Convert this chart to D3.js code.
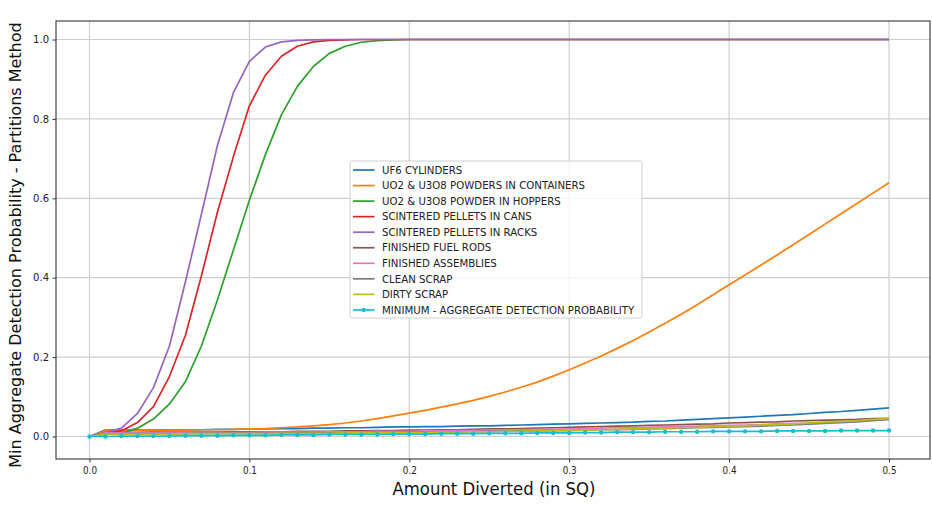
<!DOCTYPE html>
<html>
<head>
<meta charset="utf-8">
<script src="https://cdn.jsdelivr.net/npm/d3@7"></script>
<style>
  html, body { margin: 0; padding: 0; background: #fff; }
  svg { display: block; font-family: "DejaVu Sans", sans-serif; }
</style>
</head>
<body>
<svg id="chart" width="932" height="508"></svg>
<script>
// Amount diverted (SQ), sampled every 0.01
const amounts = [
  0.00, 0.01, 0.02, 0.03, 0.04, 0.05, 0.06, 0.07, 0.08, 0.09,
  0.10, 0.11, 0.12, 0.13, 0.14, 0.15, 0.16, 0.17, 0.18, 0.19,
  0.20, 0.21, 0.22, 0.23, 0.24, 0.25, 0.26, 0.27, 0.28, 0.29,
  0.30, 0.31, 0.32, 0.33, 0.34, 0.35, 0.36, 0.37, 0.38, 0.39,
  0.40, 0.41, 0.42, 0.43, 0.44, 0.45, 0.46, 0.47, 0.48, 0.49, 0.50
];

const uf6Cylinders = [
  0.000, 0.016, 0.016, 0.016, 0.016, 0.017, 0.017, 0.017, 0.018, 0.018,
  0.019, 0.019, 0.020, 0.020, 0.021, 0.021, 0.022, 0.022, 0.023, 0.024,
  0.024, 0.025, 0.025, 0.026, 0.027, 0.027, 0.028, 0.029, 0.030, 0.031,
  0.032, 0.033, 0.034, 0.035, 0.036, 0.038, 0.039, 0.041, 0.043, 0.045,
  0.047, 0.049, 0.051, 0.053, 0.055, 0.058, 0.061, 0.063, 0.066, 0.069, 0.072
];

const powdersInContainers = [
  0.000, 0.014, 0.014, 0.015, 0.015, 0.016, 0.016, 0.017, 0.017, 0.018,
  0.019, 0.020, 0.022, 0.024, 0.027, 0.030, 0.034, 0.039, 0.045, 0.052,
  0.059, 0.066, 0.074, 0.082, 0.091, 0.101, 0.112, 0.124, 0.137, 0.152,
  0.168, 0.185, 0.203, 0.222, 0.242, 0.263, 0.285, 0.308, 0.332, 0.357,
  0.382, 0.407, 0.432, 0.457, 0.483, 0.509, 0.535, 0.561, 0.587, 0.613, 0.639
];

const powderInHoppers = [
  0.000, 0.005, 0.008, 0.021, 0.044, 0.082, 0.138, 0.228, 0.344, 0.470,
  0.595, 0.710, 0.810, 0.882, 0.932, 0.965, 0.983, 0.993, 0.997, 0.999,
  1.000, 1.000, 1.000, 1.000, 1.000, 1.000, 1.000, 1.000, 1.000, 1.000,
  1.000, 1.000, 1.000, 1.000, 1.000, 1.000, 1.000, 1.000, 1.000, 1.000,
  1.000, 1.000, 1.000, 1.000, 1.000, 1.000, 1.000, 1.000, 1.000, 1.000, 1.000
];

const pelletsInCans = [
  0.000, 0.008, 0.014, 0.035, 0.075, 0.151, 0.255, 0.405, 0.565, 0.705,
  0.833, 0.910, 0.958, 0.983, 0.994, 0.998, 0.999, 1.000, 1.000, 1.000,
  1.000, 1.000, 1.000, 1.000, 1.000, 1.000, 1.000, 1.000, 1.000, 1.000,
  1.000, 1.000, 1.000, 1.000, 1.000, 1.000, 1.000, 1.000, 1.000, 1.000,
  1.000, 1.000, 1.000, 1.000, 1.000, 1.000, 1.000, 1.000, 1.000, 1.000, 1.000
];

const pelletsInRacks = [
  0.000, 0.010, 0.021, 0.058, 0.123, 0.228, 0.390, 0.560, 0.733, 0.866,
  0.945, 0.981, 0.994, 0.998, 0.999, 1.000, 1.000, 1.000, 1.000, 1.000,
  1.000, 1.000, 1.000, 1.000, 1.000, 1.000, 1.000, 1.000, 1.000, 1.000,
  1.000, 1.000, 1.000, 1.000, 1.000, 1.000, 1.000, 1.000, 1.000, 1.000,
  1.000, 1.000, 1.000, 1.000, 1.000, 1.000, 1.000, 1.000, 1.000, 1.000, 1.000
];

const finishedFuelRods = [
  0.000, 0.010, 0.010, 0.010, 0.011, 0.011, 0.011, 0.011, 0.011, 0.012,
  0.012, 0.012, 0.012, 0.013, 0.013, 0.013, 0.014, 0.014, 0.015, 0.015,
  0.016, 0.016, 0.017, 0.017, 0.018, 0.019, 0.019, 0.020, 0.021, 0.022,
  0.023, 0.024, 0.025, 0.026, 0.027, 0.028, 0.029, 0.030, 0.031, 0.032,
  0.034, 0.035, 0.036, 0.037, 0.039, 0.040, 0.041, 0.042, 0.043, 0.045, 0.046
];

const finishedAssemblies = [
  0.000, 0.009, 0.009, 0.009, 0.009, 0.010, 0.010, 0.010, 0.010, 0.010,
  0.010, 0.011, 0.011, 0.011, 0.011, 0.012, 0.012, 0.012, 0.013, 0.013,
  0.013, 0.014, 0.014, 0.015, 0.015, 0.016, 0.016, 0.017, 0.018, 0.018,
  0.019, 0.020, 0.021, 0.022, 0.022, 0.023, 0.024, 0.025, 0.026, 0.027,
  0.028, 0.029, 0.030, 0.032, 0.033, 0.034, 0.036, 0.037, 0.039, 0.041, 0.043
];

const cleanScrap = [
  0.000, 0.007, 0.007, 0.007, 0.007, 0.007, 0.007, 0.008, 0.008, 0.008,
  0.008, 0.008, 0.008, 0.009, 0.009, 0.009, 0.009, 0.010, 0.010, 0.010,
  0.011, 0.011, 0.011, 0.012, 0.012, 0.013, 0.013, 0.014, 0.014, 0.015,
  0.015, 0.016, 0.017, 0.017, 0.018, 0.019, 0.020, 0.021, 0.022, 0.023,
  0.024, 0.025, 0.026, 0.028, 0.029, 0.031, 0.033, 0.035, 0.037, 0.040, 0.043
];

const dirtyScrap = [
  0.000, 0.006, 0.006, 0.006, 0.006, 0.006, 0.007, 0.007, 0.007, 0.007,
  0.007, 0.007, 0.008, 0.008, 0.008, 0.008, 0.009, 0.009, 0.009, 0.010,
  0.010, 0.010, 0.011, 0.011, 0.012, 0.012, 0.013, 0.013, 0.014, 0.015,
  0.016, 0.016, 0.017, 0.018, 0.019, 0.020, 0.021, 0.022, 0.023, 0.025,
  0.026, 0.027, 0.029, 0.030, 0.032, 0.034, 0.036, 0.038, 0.040, 0.043, 0.045
];

const minimumAggregate = [
  0.000, 0.000, 0.001, 0.001, 0.001, 0.001, 0.002, 0.002, 0.002, 0.003,
  0.003, 0.003, 0.004, 0.004, 0.004, 0.005, 0.005, 0.005, 0.005, 0.006,
  0.006, 0.006, 0.007, 0.007, 0.007, 0.008, 0.008, 0.008, 0.009, 0.009,
  0.009, 0.010, 0.010, 0.011, 0.011, 0.011, 0.012, 0.012, 0.012, 0.013,
  0.013, 0.013, 0.013, 0.014, 0.014, 0.014, 0.014, 0.015, 0.015, 0.015, 0.015
];

const seriesNames = [
  "UF6 CYLINDERS",
  "UO2 & U3O8 POWDERS IN CONTAINERS",
  "UO2 & U3O8 POWDER IN HOPPERS",
  "SCINTERED PELLETS IN CANS",
  "SCINTERED PELLETS IN RACKS",
  "FINISHED FUEL RODS",
  "FINISHED ASSEMBLIES",
  "CLEAN SCRAP",
  "DIRTY SCRAP",
  "MINIMUM - AGGREGATE DETECTION PROBABILITY"
];
const seriesValues = [
  uf6Cylinders, powdersInContainers, powderInHoppers, pelletsInCans, pelletsInRacks,
  finishedFuelRods, finishedAssemblies, cleanScrap, dirtyScrap, minimumAggregate
];
const seriesColors = [
  "#1f77b4", "#ff7f0e", "#2ca02c", "#d62728", "#9467bd",
  "#8c564b", "#e377c2", "#7f7f7f", "#bcbd22", "#17becf"
];

const xTicks = [0.0, 0.1, 0.2, 0.3, 0.4, 0.5];
const yTicks = [0.0, 0.2, 0.4, 0.6, 0.8, 1.0];
const xTitle = "Amount Diverted (in SQ)";
const yTitle = "Min Aggregate Detection Probability - Partitions Method";

// ---- layout ----
const frame = { left: 56, right: 930, top: 21, bottom: 459 };

// data -> pixel mapping (0 and 0.5 / 0 and 1 anchor points)
const x0 = d3.scaleLinear().domain([0, 0.5]).range([89.5, 889]);
const y0 = d3.scaleLinear().domain([0, 1]).range([436.5, 39.5]);
const x = d3.scaleLinear()
  .domain([x0.invert(frame.left), x0.invert(frame.right)])
  .range([frame.left, frame.right]);
const y = d3.scaleLinear()
  .domain([y0.invert(frame.bottom), y0.invert(frame.top)])
  .range([frame.bottom, frame.top]);

const svg = d3.select("#chart");

// grid
const grid = svg.append("g").attr("class", "grid");
grid.selectAll("line.gx").data(xTicks).join("line")
  .attr("x1", d => x(d)).attr("x2", d => x(d))
  .attr("y1", frame.top).attr("y2", frame.bottom)
  .attr("stroke", "#cfcfcf").attr("stroke-width", 1.2);
grid.selectAll("line.gy").data(yTicks).join("line")
  .attr("x1", frame.left).attr("x2", frame.right)
  .attr("y1", d => y(d)).attr("y2", d => y(d))
  .attr("stroke", "#cfcfcf").attr("stroke-width", 1.2);

// series lines
const line = d3.line()
  .x((d, i) => x(amounts[i]))
  .y(d => y(d));

const plot = svg.append("g");
seriesValues.forEach((vals, k) => {
  plot.append("path")
    .datum(vals)
    .attr("d", line)
    .attr("fill", "none")
    .attr("stroke", seriesColors[k])
    .attr("stroke-width", 1.7)
    .attr("stroke-linejoin", "round");
});

// markers on the minimum curve
plot.selectAll("circle.mk").data(minimumAggregate).join("circle")
  .attr("cx", (d, i) => x(amounts[i]))
  .attr("cy", d => y(d))
  .attr("r", 2.2)
  .attr("fill", seriesColors[9]);

// axes
const xAxis = svg.append("g")
  .attr("transform", `translate(0,${frame.bottom})`)
  .call(d3.axisBottom(x).tickValues(xTicks).tickFormat(d3.format(".1f")).tickSizeOuter(0).tickSize(3.5).tickPadding(4));
xAxis.select(".domain").remove();
xAxis.selectAll(".tick line").attr("stroke", "#333");
xAxis.selectAll(".tick text")
  .attr("font-family", "'DejaVu Sans Condensed', 'DejaVu Sans', sans-serif")
  .attr("font-size", 11).attr("fill", "#222")
  .attr("textLength", 14).attr("lengthAdjust", "spacingAndGlyphs");

const yAxis = svg.append("g")
  .attr("transform", `translate(${frame.left},0)`)
  .call(d3.axisLeft(y).tickValues(yTicks).tickFormat(d3.format(".1f")).tickSizeOuter(0).tickSize(3.5).tickPadding(3.5));
yAxis.select(".domain").remove();
yAxis.selectAll(".tick line").attr("stroke", "#333");
yAxis.selectAll(".tick text")
  .attr("font-family", "'DejaVu Sans', sans-serif")
  .attr("font-size", 10).attr("fill", "#222");

// frame
svg.append("rect")
  .attr("x", frame.left).attr("y", frame.top)
  .attr("width", frame.right - frame.left).attr("height", frame.bottom - frame.top)
  .attr("fill", "none").attr("stroke", "#444").attr("stroke-width", 1.2);

// axis titles
svg.append("text")
  .attr("x", 494).attr("y", 495)
  .attr("text-anchor", "middle")
  .attr("font-family", "'DejaVu Sans Condensed', 'DejaVu Sans', sans-serif")
  .attr("font-size", 18).attr("fill", "#111")
  .attr("textLength", 203).attr("lengthAdjust", "spacingAndGlyphs")
  .text(xTitle);

svg.append("text")
  .attr("transform", "translate(21,245) rotate(-90)")
  .attr("text-anchor", "middle")
  .attr("font-size", 16).attr("fill", "#111")
  .text(yTitle);

// legend
const lg = { x: 350, y: 161, w: 292, h: 157, row: 15.55, first: 170 };
const legend = svg.append("g");
legend.append("rect")
  .attr("x", lg.x).attr("y", lg.y).attr("width", lg.w).attr("height", lg.h)
  .attr("rx", 2).attr("fill", "#fff").attr("fill-opacity", 0.8)
  .attr("stroke", "#d0d0d0").attr("stroke-width", 1);
const items = legend.selectAll("g.item").data(seriesNames).join("g")
  .attr("transform", (d, i) => `translate(0,${lg.first + i * lg.row})`);
items.append("line")
  .attr("x1", 353).attr("x2", 374.5).attr("y1", 0).attr("y2", 0)
  .attr("stroke", (d, i) => seriesColors[i]).attr("stroke-width", 1.7);
items.filter((d, i) => i === 9).append("circle")
  .attr("cx", 363.7).attr("cy", 0).attr("r", 2.2).attr("fill", seriesColors[9]);
items.append("text")
  .attr("x", 382).attr("y", 0).attr("dy", "0.36em")
  .attr("font-size", 10.2).attr("fill", "#222")
  .text(d => d);
</script>
</body>
</html>
